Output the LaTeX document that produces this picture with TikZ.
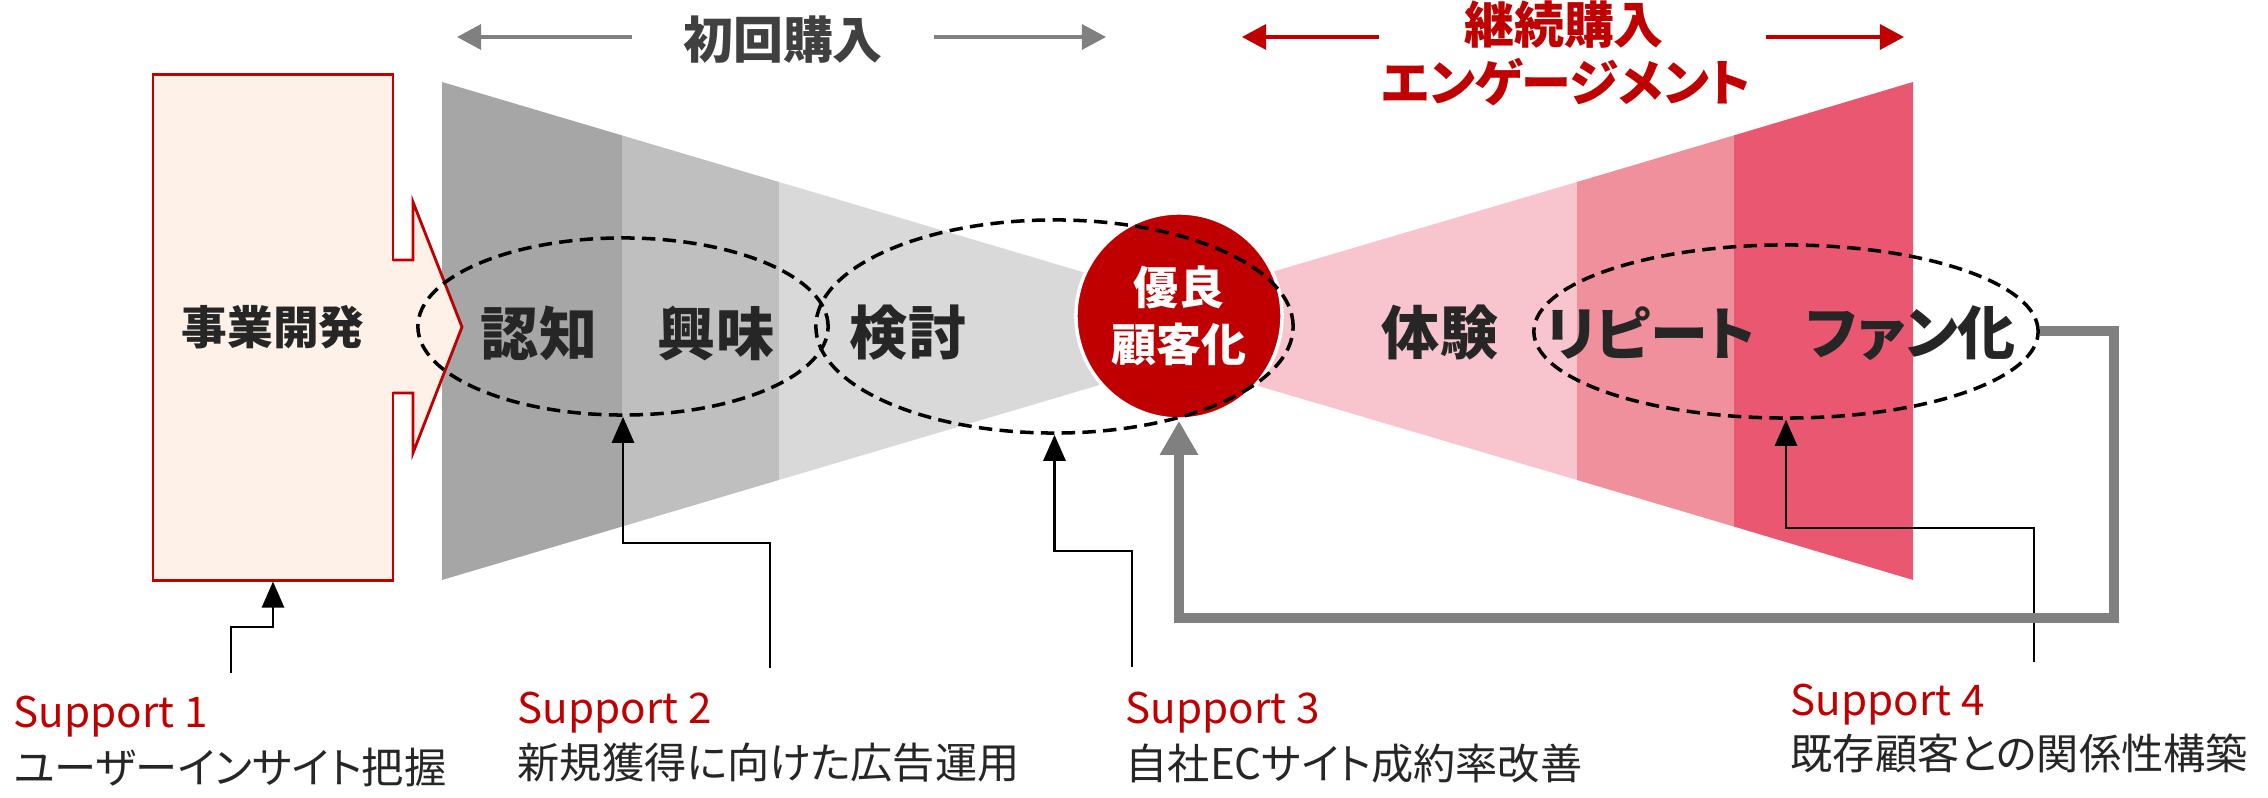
\documentclass[tikz,border=0pt]{standalone}
\usepackage{fontspec}
\setmainfont{Noto Sans CJK JP}[RawFeature=+palt]
\usepackage{tikz}
\usetikzlibrary{shapes.geometric,arrows.meta,positioning,calc}

\definecolor{jred}{HTML}{C00000}
\definecolor{peach}{HTML}{FDF1E8}
\definecolor{gA}{HTML}{A6A6A6}
\definecolor{gB}{HTML}{BFBFBF}
\definecolor{gC}{HTML}{D9D9D9}
\definecolor{pA}{HTML}{F8C5CE}
\definecolor{pB}{HTML}{F0909D}
\definecolor{pC}{HTML}{EA5770}
\definecolor{loopgray}{HTML}{808080}
\definecolor{ink}{HTML}{262626}
\definecolor{headgray}{HTML}{404040}

\begin{document}
\begin{tikzpicture}[
    x=0.01cm, y=-0.01cm,
    stage/.style={inner sep=0pt, text=ink, font=\fontsize{16.5}{18}\selectfont\bfseries},
    head/.style={inner sep=0pt, font=\fontsize{14.2}{17}\selectfont\bfseries},
    ring/.style={ellipse, draw, line width=1pt, dash pattern=on 3.8pt off 2.1pt, inner sep=0pt},
    supt/.style={anchor=west, inner sep=0pt, text=jred, font=\fontsize{12}{14}\selectfont},
    supd/.style={anchor=west, inner sep=0pt, text=ink, font=\fontsize{12}{14}\selectfont},
    suparrow/.style={line width=0.8pt, -{Triangle[length=0.26cm,width=0.22cm]}},
    span/.style={line width=0.9pt, -{Triangle[length=0.24cm,width=0.25cm]}},
    loopline/.style={draw=loopgray, line width=0.1cm, -{Triangle[length=0.34cm,width=0.36cm]}}
]
\useasboundingbox (0,0) rectangle (2268,798);

% first purchase funnel
\fill[gA] (442,82) -- (622,135.4) -- (622,526.6) -- (442,580) -- cycle;
\fill[gB] (622,135.4) -- (779,182) -- (779,480) -- (622,526.6) -- cycle;
\fill[gC] (779,182) -- (1177,300) -- (1177,362) -- (779,480) -- cycle;

% repeat purchase funnel
\fill[pA] (1177,300) -- (1577,182) -- (1577,480) -- (1177,362) -- cycle;
\fill[pB] (1577,182) -- (1734,135.4) -- (1734,526.6) -- (1577,480) -- cycle;
\fill[pC] (1734,135.4) -- (1913,82) -- (1913,580) -- (1734,526.6) -- cycle;

% business development box
\node (dev) [rectangle, draw=jred, fill=peach, line width=0.8pt, minimum width=2.4cm, minimum height=5.05cm,
  text=ink, font=\fontsize{13}{15}\selectfont\bfseries] at (273,327.5) {事業開発};
\fill[peach] (391,261) -- (413,261) -- (413,202) -- (462,327) -- (413,453) -- (413,392) -- (391,392) -- cycle;
\draw[jred, line width=0.8pt] (393,260) -- (413,260) -- (413,202) -- (462,327) -- (413,453) -- (413,393) -- (393,393);

% core customer
\node (core) [circle, fill=jred, draw=white, line width=1pt, minimum size=2.06cm, inner sep=0pt, text=white,
  align=center, font=\fontsize{12.8}{16.2}\selectfont\bfseries] at (1179,316) {優良\\顧客化};

% dashed groups
\node (e1) [ring, minimum width=4.1cm, minimum height=1.77cm] at (623,326.5) {};
\node (e2) [ring, minimum width=4.77cm, minimum height=2.13cm] at (1054.5,326.5) {};
\node (e3) [ring, minimum width=5.04cm, minimum height=1.73cm] at (1786,331.5) {};

% stages
\node (ninchi) [stage] at (539,333) {認知};
\node (kyomi) [stage] at (716,333) {興味};
\node (kento) [stage] at (908,333) {検討};
\node (taiken) [stage] at (1440,333) {体験};
\node (repeat) [stage] at (1651,333) {リピート};
\node (fan) [stage] at (1911,333) {ファン化};

% headers
\node (first) [head, text=headgray] at (783,40) {初回購入};
\node (cont) [head, text=jred] at (1564,25) {継続購入};
\node (engage) [head, text=jred] at (1566,82) {エンゲージメント};

\coordinate (fl) at (457,37);
\coordinate (fr) at (1106,37);
\coordinate (cl) at (1242,37);
\coordinate (cr) at (1904,37);
\draw[span, loopgray] (first.west |- fl) ++(-50,0) -- (fl);
\draw[span, loopgray] (first.east |- fr) ++(50,0) -- (fr);
\draw[span, jred] (cont.west |- cl) ++(-84,0) -- (cl);
\draw[span, jred] (cont.east |- cr) ++(101,0) -- (cr);

% supports
\node (s1t) [supt] at (13,717) {Support 1};
\node (s1d) [supd] at (13,767) {ユーザーインサイト把握};
\node (s2t) [supt] at (517,713) {Support 2};
\node (s2d) [supd] at (517,763) {新規獲得に向けた広告運用};
\node (s3t) [supt] at (1125,713) {Support 3};
\node (s3d) [supd] at (1125,764) {自社ECサイト成約率改善};
\node (s4t) [supt] at (1790,705) {Support 4};
\node (s4d) [supd] at (1790,753) {既存顧客との関係性構築};

\coordinate (s1a) at (231,673);
\coordinate (s2a) at (770,668);
\coordinate (s3a) at (1132,667);
\coordinate (s4a) at (2034,662);
\draw[suparrow] (s1a) -- ++(0,-46) -| (dev.south);
\draw[suparrow] (s2a) -- ++(0,-125) -| (e1.south);
\draw[suparrow] (s3a) -- ++(0,-116) -| (e2.south);
\draw[suparrow] (s4a) -- ++(0,-134) -| (e3.south);

% loop back
\draw[loopline] (e3.east) -| ++(74,287) -| (core.south);

\end{tikzpicture}
\end{document}
